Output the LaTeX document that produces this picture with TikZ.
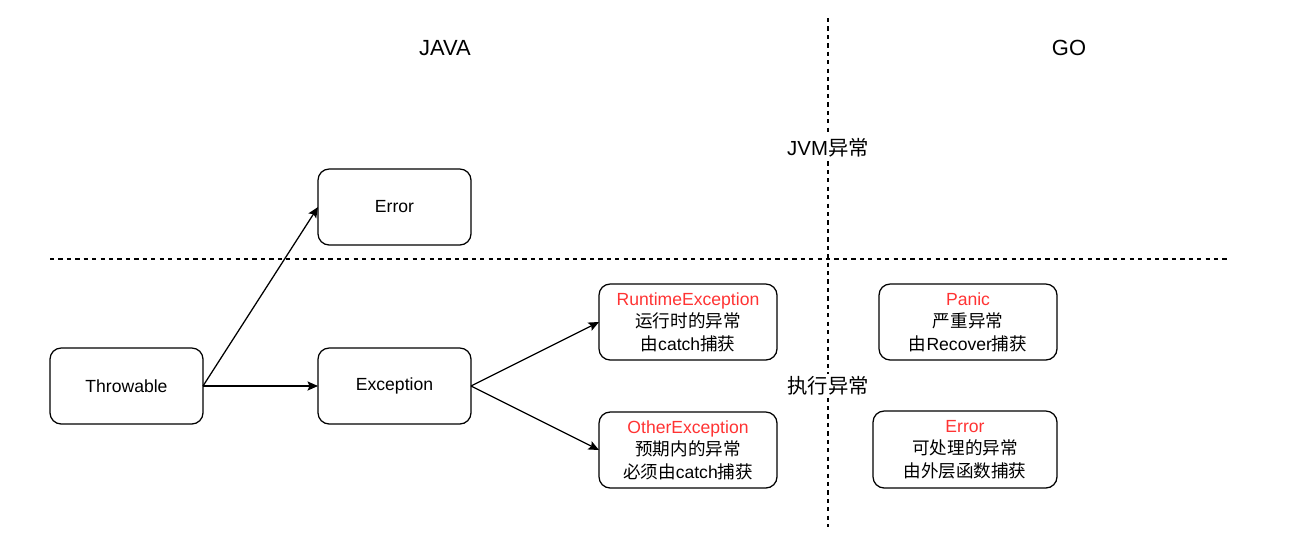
\documentclass[tikz,border=0pt]{standalone}
\usepackage{xcolor}
\usepackage{fontspec}
\setmainfont{Liberation Sans}
\newfontfamily\cjk{Noto Sans CJK SC}
\usepackage{tikz}
\usetikzlibrary{positioning, arrows.meta}
\definecolor{errred}{HTML}{FF3333}
\tikzstyle{box} = [rectangle, rounded corners=0.28cm, minimum width=3.825cm, minimum height=1.9cm, outer sep=0pt, text centered, align=center, draw=black, line width=0.9pt, font=\fontsize{12.5}{16}\selectfont]
\tikzstyle{widebox} = [box, minimum width=4.45cm]
\tikzstyle{title} = [font=\fontsize{15.6}{18}\selectfont]
\tikzstyle{region} = [fill=white, inner sep=2pt, font=\fontsize{14.5}{17}\selectfont]
\tikzstyle{divider} = [line width=0.8pt, dash pattern=on 3pt off 3pt]
\tikzstyle{arrow} = [line width=0.9pt, -{Stealth[length=7.5pt, width=6.5pt, inset=1.5pt]}]

\begin{document}
\begin{tikzpicture}

    \useasboundingbox (0,0) rectangle (32.45,-13.7);

    % Dividers
    \draw [divider] (1.25,-6.475) -- (30.75,-6.475);
    \draw [divider] (20.7,-0.45) -- (20.7,-13.175);

    % Titles
    \node (java) [title] at (11.125,-1.2) {JAVA};
    \node (go) [title] at (26.725,-1.2) {GO};
    \node (jvm) [region] at (20.7,-3.7) {JVM{\cjk 异常}};
    \node (runtime) [region] at (20.7,-9.65) {{\cjk 执行异常}};

    % Nodes
    \node (throwable) [box] at (3.1625,-9.65) {Throwable};
    \node (exception) [box, right=2.875cm of throwable] {Exception};
    \node (error) [box, above=2.575cm of exception] {Error};
    \node (runtimeexc) [widebox, right=3.2cm of exception, yshift=1.6cm] {\textcolor{errred}{RuntimeException}\\{\cjk 运行时的异常}\\{\cjk 由}catch{\cjk 捕获}};
    \node (otherexc) [widebox, right=3.2cm of exception, yshift=-1.6cm] {\textcolor{errred}{OtherException}\\{\cjk 预期内的异常}\\{\cjk 必须由}catch{\cjk 捕获}};
    \node (panic) [widebox, right=2.55cm of runtimeexc] {\textcolor{errred}{Panic}\\{\cjk 严重异常}\\{\cjk 由}Recover{\cjk 捕获}};
    \node (goerror) [widebox, minimum width=4.6cm, minimum height=1.925cm, anchor=north east] at ([yshift=-1.275cm]panic.south east) {\textcolor{errred}{Error}\\{\cjk 可处理的异常}\\{\cjk 由外层函数捕获}};

    % Arrows
    \draw [arrow] (throwable.east) -- (error.west);
    \draw [arrow] (throwable.east) -- (exception.west);
    \draw [arrow] (exception.east) -- (runtimeexc.west);
    \draw [arrow] (exception.east) -- (otherexc.west);

\end{tikzpicture}
\end{document}
